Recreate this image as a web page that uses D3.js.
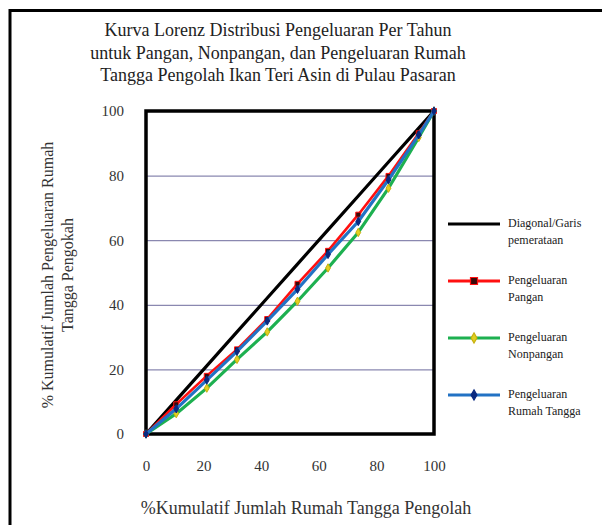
<!DOCTYPE html>
<html lang="id">
<head>
  <meta charset="UTF-8">
  <title>Kurva Lorenz</title>
  <script src="https://d3js.org/d3.v7.min.js"></script>
  <style>
    * { margin: 0; padding: 0; box-sizing: border-box; }
    body { background: #fff; }
    svg text { font-family: "Liberation Serif", "DejaVu Serif", serif; }
  </style>
</head>
<body>
  <div id="chart"></div>
  <script>
    // data
    const kumulatifRT = [0, 10.5, 21.1, 31.6, 42.1, 52.6, 63.2, 73.7, 84.2, 94.7, 100];
    const diagonal = [0, 10.5, 21.1, 31.6, 42.1, 52.6, 63.2, 73.7, 84.2, 94.7, 100];
    const pangan = [0, 9.2, 18.0, 26.2, 35.6, 46.5, 56.7, 67.9, 79.9, 93.1, 100];
    const nonpangan = [0, 6.3, 14.2, 23.1, 31.6, 41.1, 51.4, 62.4, 76.1, 91.8, 100];
    const rumahTangga = [0, 7.8, 16.7, 25.6, 35.0, 44.8, 55.6, 65.8, 78.7, 92.6, 100];
    const ticks = [0, 20, 40, 60, 80, 100];
    const titleLines = [
      "Kurva Lorenz Distribusi Pengeluaran Per Tahun",
      "untuk Pangan, Nonpangan, dan Pengeluaran Rumah",
      "Tangga Pengolah Ikan Teri Asin di Pulau Pasaran"
    ];

    const W = 602, H = 525;
    const plot = {left: 146, right: 434, top: 111, bottom: 434};
    const serif = '"Liberation Serif", "DejaVu Serif", serif';

    const svg = d3.select("#chart").append("svg")
      .attr("width", W).attr("height", H);

    // outer frame
    svg.append("rect")
      .attr("x", 10).attr("y", 10.5)
      .attr("width", W).attr("height", H)
      .attr("fill", "none").attr("stroke", "#000").attr("stroke-width", 3);

    const x = d3.scaleLinear().domain([0, 100]).range([plot.left, plot.right]);
    const y = d3.scaleLinear().domain([0, 100]).range([plot.bottom, plot.top]);

    // title
    svg.append("text")
      .attr("x", 278).attr("y", 36)
      .attr("text-anchor", "middle")
      .style("font-size", "18px").style("fill", "#222")
      .selectAll("tspan").data(titleLines).enter().append("tspan")
      .attr("x", 278).attr("dy", (d, i) => i ? 22.5 : 0)
      .text(d => d);

    // grid
    svg.append("g")
      .attr("transform", `translate(${plot.left},0)`)
      .call(d3.axisLeft(y).tickValues([20, 40, 60, 80]).tickSize(-(plot.right - plot.left)).tickFormat(""))
      .call(g => g.select(".domain").remove())
      .selectAll("line").attr("stroke", "#8a88b0").attr("stroke-width", 1.2);

    // y axis labels
    svg.append("g")
      .attr("transform", `translate(${plot.left},0)`)
      .call(d3.axisLeft(y).tickValues(ticks).tickSize(0).tickPadding(22))
      .attr("font-family", serif).attr("font-size", 15)
      .call(g => g.select(".domain").remove())
      .selectAll("text").style("fill", "#333");

    // x axis labels
    svg.append("g")
      .attr("transform", `translate(0,${plot.bottom})`)
      .call(d3.axisBottom(x).tickValues(ticks).tickSize(0).tickPadding(26))
      .attr("font-family", serif).attr("font-size", 15)
      .call(g => g.select(".domain").remove())
      .selectAll("text").style("fill", "#333");

    // plot frame
    svg.append("rect")
      .attr("x", plot.left).attr("y", plot.top)
      .attr("width", plot.right - plot.left).attr("height", plot.bottom - plot.top)
      .attr("fill", "none").attr("stroke", "#000").attr("stroke-width", 3.5);

    const series = [
      {name: ["Diagonal/Garis", "pemerataan"], values: diagonal, color: "#000", width: 3.2, marker: null},
      {name: ["Pengeluaran", "Pangan"], values: pangan, color: "#ff1010", width: 2.6, marker: "square", mfill: "#3a0a0a", mstroke: "#ff1010", msize: 5},
      {name: ["Pengeluaran", "Nonpangan"], values: nonpangan, color: "#1db050", width: 3.2, marker: "diamond", mfill: "#e0d020", mstroke: "#c8b010", msize: 4.5},
      {name: ["Pengeluaran", "Rumah Tangga"], values: rumahTangga, color: "#2272c4", width: 3.2, marker: "diamond", mfill: "#0a2a80", mstroke: "#0a2a80", msize: 4.5}
    ];

    const line = d3.line().x(d => x(d[0])).y(d => y(d[1]));
    const symbolFor = s => s.marker === "square" ? d3.symbolSquare : d3.symbolDiamond;

    series.forEach(s => {
      const pts = kumulatifRT.map((v, i) => [v, s.values[i]]);
      svg.append("path")
        .datum(pts)
        .attr("d", line)
        .attr("fill", "none")
        .attr("stroke", s.color)
        .attr("stroke-width", s.width)
        .attr("stroke-linejoin", "round");
      if (s.marker) {
        svg.selectAll(null).data(pts).enter().append("path")
          .attr("transform", d => `translate(${x(d[0])},${y(d[1])})`)
          .attr("d", d3.symbol().type(symbolFor(s)).size(s.msize * s.msize))
          .attr("fill", s.mfill)
          .attr("stroke", s.mstroke)
          .attr("stroke-width", 1);
      }
    });

    // legend
    const legend = svg.append("g").attr("transform", "translate(448,224)");
    series.forEach((s, i) => {
      const g = legend.append("g").attr("transform", `translate(0,${i * 57})`);
      g.append("line").attr("x1", 0).attr("x2", 52).attr("y1", 0).attr("y2", 0)
        .attr("stroke", s.color).attr("stroke-width", 3);
      if (s.marker) {
        g.append("path")
          .attr("transform", "translate(26,0)")
          .attr("d", d3.symbol().type(symbolFor(s)).size(s.marker === "square" ? 49 : 30))
          .attr("fill", s.mfill).attr("stroke", s.mstroke).attr("stroke-width", 1.2);
      }
      g.append("text")
        .attr("x", 60).attr("y", 0)
        .style("font-size", "12px").style("fill", "#222")
        .selectAll("tspan").data(s.name).enter().append("tspan")
        .attr("x", 60).attr("dy", (d, j) => j ? 17 : 3)
        .text(d => d);
    });

    // axis titles
    svg.append("text")
      .attr("x", 306).attr("y", 514)
      .attr("text-anchor", "middle")
      .style("font-size", "18px").style("fill", "#333")
      .text("%Kumulatif Jumlah Rumah Tangga Pengolah");

    svg.append("text")
      .attr("transform", "translate(0,275) rotate(-90)")
      .attr("text-anchor", "middle")
      .style("font-size", "16px").style("fill", "#333")
      .selectAll("tspan").data(["% Kumulatif Jumlah Pengeluaran Rumah", "Tangga Pengokah"]).enter().append("tspan")
      .attr("x", 0).attr("y", (d, i) => i ? 73 : 53)
      .text(d => d);
  </script>
</body>
</html>
